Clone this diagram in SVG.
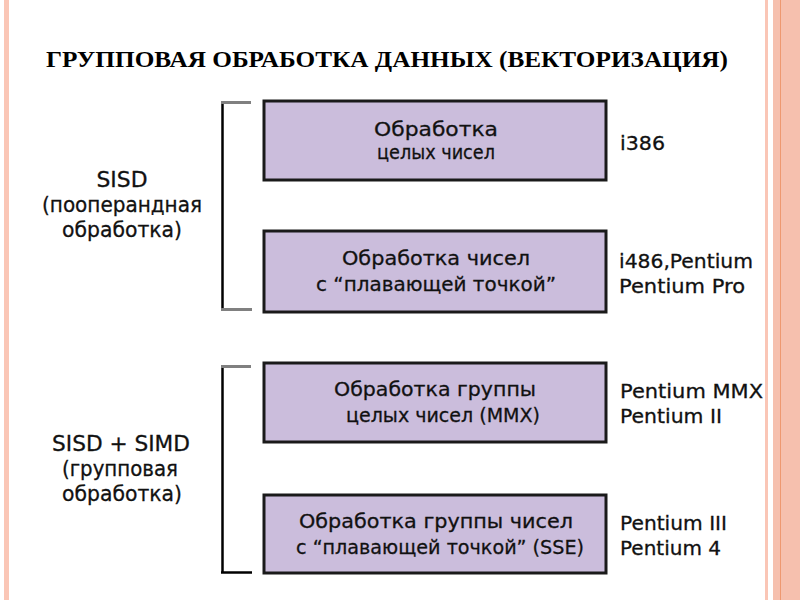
<svg xmlns="http://www.w3.org/2000/svg" width="800" height="600" viewBox="0 0 800 600">
<style>
.title{font-family:"Liberation Serif","Times New Roman",serif;font-weight:bold;font-size:24px;fill:#000}
.box{fill:#cbbddc;stroke:#1a1a1a;stroke-width:3}
.bt{font-family:"DejaVu Sans","Liberation Sans",sans-serif;font-size:20px;fill:#111;stroke:#111;stroke-width:0.3;text-anchor:middle}
.lt{font-family:"DejaVu Sans","Liberation Sans",sans-serif;font-size:21px;fill:#111;stroke:#111;stroke-width:0.3;text-anchor:middle}
.rt{font-family:"DejaVu Sans","Liberation Sans",sans-serif;font-size:20px;fill:#111;stroke:#111;stroke-width:0.3}
.bv{stroke:#000;stroke-width:2.5;fill:none}
.bh{stroke:#808080;stroke-width:3;fill:none}
</style>
<rect x="0" y="0" width="800" height="600" fill="#ffffff"/>
<rect x="4" y="0" width="5" height="600" fill="#fac6b6"/>
<rect x="765" y="0" width="3" height="600" fill="#fac6b6"/>
<rect x="773" y="0" width="27" height="600" fill="#f6c0ae"/>
<rect x="780" y="0" width="1" height="600" fill="#ee9870"/>
<text class="title" x="46" y="67" textLength="682" lengthAdjust="spacingAndGlyphs">ГРУППОВАЯ ОБРАБОТКА ДАННЫХ (ВЕКТОРИЗАЦИЯ)</text>
<g id="connectors">
<path class="bv" d="M222.5 102 V310"/>
<path class="bh" d="M221 102.5 H251"/>
<path class="bh" d="M221 309.5 H252"/>
<path class="bv" d="M222.5 366 V573"/>
<path class="bh" d="M221 366.5 H251"/>
<path class="bv" d="M221 572.5 H252"/>
</g>
<g id="sisd">
<text class="lt" x="122" y="187" textLength="51" lengthAdjust="spacingAndGlyphs">SISD</text>
<text class="lt" x="122" y="212" textLength="160" lengthAdjust="spacingAndGlyphs">(пооперандная</text>
<text class="lt" x="122" y="237" textLength="120" lengthAdjust="spacingAndGlyphs">обработка)</text>
</g>
<g id="simd">
<text class="lt" x="121" y="451" textLength="138" lengthAdjust="spacingAndGlyphs">SISD + SIMD</text>
<text class="lt" x="120" y="476" textLength="116" lengthAdjust="spacingAndGlyphs">(групповая</text>
<text class="lt" x="122" y="501" textLength="120" lengthAdjust="spacingAndGlyphs">обработка)</text>
</g>
<g id="box1">
<rect class="box" x="264" y="101" width="342" height="79"/>
<text class="bt" x="436" y="136" textLength="124" lengthAdjust="spacingAndGlyphs">Обработка</text>
<text class="bt" x="436" y="159" font-size="17" textLength="118" lengthAdjust="spacingAndGlyphs">целых чисел</text>
</g>
<g id="box2">
<rect class="box" x="264" y="231" width="342" height="81"/>
<text class="bt" x="436" y="265" textLength="188" lengthAdjust="spacingAndGlyphs">Обработка чисел</text>
<text class="bt" x="436" y="291" textLength="240" lengthAdjust="spacingAndGlyphs">с “плавающей точкой”</text>
</g>
<g id="box3">
<rect class="box" x="264" y="363" width="342" height="79"/>
<text class="bt" x="435" y="396" textLength="202" lengthAdjust="spacingAndGlyphs">Обработка группы</text>
<text class="bt" x="443" y="422" textLength="194" lengthAdjust="spacingAndGlyphs">целых чисел (MMX)</text>
</g>
<g id="box4">
<rect class="box" x="264" y="495" width="342" height="78"/>
<text class="bt" x="436" y="528" textLength="274" lengthAdjust="spacingAndGlyphs">Обработка группы чисел</text>
<text class="bt" x="440" y="554" textLength="288" lengthAdjust="spacingAndGlyphs">с “плавающей точкой” (SSE)</text>
</g>
<g id="labels">
<text class="rt" x="620" y="150" textLength="45" lengthAdjust="spacingAndGlyphs">i386</text>
<text class="rt" x="619" y="268" textLength="134" lengthAdjust="spacingAndGlyphs">i486,Pentium</text>
<text class="rt" x="619" y="293" textLength="126" lengthAdjust="spacingAndGlyphs">Pentium Pro</text>
<text class="rt" x="620" y="398" textLength="143" lengthAdjust="spacingAndGlyphs">Pentium MMX</text>
<text class="rt" x="620" y="423" textLength="102" lengthAdjust="spacingAndGlyphs">Pentium II</text>
<text class="rt" x="620" y="530" textLength="107" lengthAdjust="spacingAndGlyphs">Pentium III</text>
<text class="rt" x="620" y="555" textLength="101" lengthAdjust="spacingAndGlyphs">Pentium 4</text>
</g>
</svg>
